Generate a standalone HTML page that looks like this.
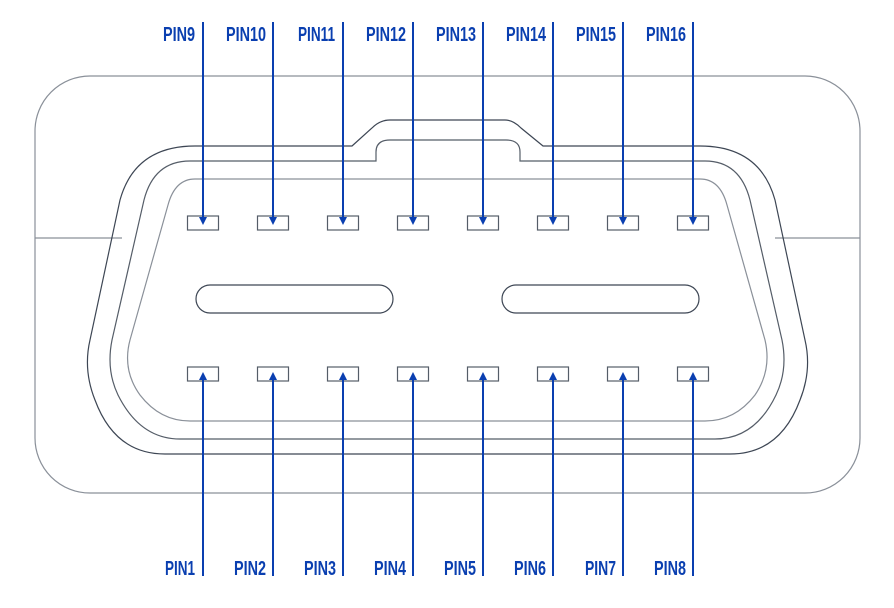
<!DOCTYPE html>
<html><head><style>body{margin:0;background:#fff}svg{display:block}
text{font-family:"Liberation Sans",sans-serif;font-weight:bold;font-size:20px;fill:#0a3fb0}</style></head>
<body>
<svg width="894" height="608" viewBox="0 0 894 608" xmlns="http://www.w3.org/2000/svg">
<defs><marker id="a" markerWidth="8" markerHeight="8" refX="4" refY="4" orient="auto" markerUnits="userSpaceOnUse"><path d="M0,0 L8,4 L0,8Z" fill="#0a3fb0"/></marker></defs>
<g fill="none" stroke-width="1.2">
<rect x="35" y="76" width="825" height="417" rx="55" stroke="#8a9099"/>
<line x1="35" y1="238" x2="122" y2="238" stroke="#8a9099"/>
<line x1="775" y1="238" x2="860" y2="238" stroke="#8a9099"/>
<path d="M352,146 L372,128 Q380,120 390,120 L505,120 Q513,120 521,128 L543,146 L700,146 Q760,146 775,200 L805,340 Q812,370 800,400 Q780,454 730,454 L165,454 Q115,454 95,400 Q83,370 90,340 L120,200 Q135,146 195,146 Z" stroke="#3d4654"/>
<path d="M376,161 L376,152 Q376,140 390,140 L506,140 Q520,140 520,152 L520,161 L705,161 Q740,161 750,200 L782,340 Q788,370 776,395 Q755,439 715,439 L180,439 Q140,439 118,395 Q106,370 112,340 L144,200 Q154,161 190,161 Z" stroke="#555d68"/>
<path d="M195,179 L700,179 Q720,179 727,205 L765,340 Q772,370 755,395 Q735,421 705,421 L190,421 Q160,421 140,395 Q122,370 130,340 L168,205 Q175,179 195,179 Z" stroke="#8a9099"/>
<rect x="196" y="285" width="197" height="28" rx="14" stroke="#3d4654"/>
<rect x="502" y="285" width="197" height="28" rx="14" stroke="#3d4654"/>
<g stroke="#555d68">
<rect x="187.5" y="216" width="31" height="14"/><rect x="257.5" y="216" width="31" height="14"/><rect x="327.5" y="216" width="31" height="14"/><rect x="397.5" y="216" width="31" height="14"/><rect x="467.5" y="216" width="31" height="14"/><rect x="537.5" y="216" width="31" height="14"/><rect x="607.5" y="216" width="31" height="14"/><rect x="677.5" y="216" width="31" height="14"/>
<rect x="187.5" y="367" width="31" height="14"/><rect x="257.5" y="367" width="31" height="14"/><rect x="327.5" y="367" width="31" height="14"/><rect x="397.5" y="367" width="31" height="14"/><rect x="467.5" y="367" width="31" height="14"/><rect x="537.5" y="367" width="31" height="14"/><rect x="607.5" y="367" width="31" height="14"/><rect x="677.5" y="367" width="31" height="14"/>
</g>
</g>
<g stroke="#0a3fb0" stroke-width="2" marker-end="url(#a)">
<line x1="203" y1="22" x2="203" y2="221"/><line x1="273" y1="22" x2="273" y2="221"/><line x1="343" y1="22" x2="343" y2="221"/><line x1="413" y1="22" x2="413" y2="221"/><line x1="483" y1="22" x2="483" y2="221"/><line x1="553" y1="22" x2="553" y2="221"/><line x1="623" y1="22" x2="623" y2="221"/><line x1="693" y1="22" x2="693" y2="221"/>
<line x1="203" y1="576" x2="203" y2="376"/><line x1="273" y1="576" x2="273" y2="376"/><line x1="343" y1="576" x2="343" y2="376"/><line x1="413" y1="576" x2="413" y2="376"/><line x1="483" y1="576" x2="483" y2="376"/><line x1="553" y1="576" x2="553" y2="376"/><line x1="623" y1="576" x2="623" y2="376"/><line x1="693" y1="576" x2="693" y2="376"/>
</g>
<g lengthAdjust="spacingAndGlyphs">
<text x="163" y="41" textLength="32" lengthAdjust="spacingAndGlyphs">PIN9</text>
<text x="226" y="41" textLength="40" lengthAdjust="spacingAndGlyphs">PIN10</text>
<text x="298" y="41" textLength="37" lengthAdjust="spacingAndGlyphs">PIN11</text>
<text x="366" y="41" textLength="40" lengthAdjust="spacingAndGlyphs">PIN12</text>
<text x="436" y="41" textLength="40" lengthAdjust="spacingAndGlyphs">PIN13</text>
<text x="506" y="41" textLength="40" lengthAdjust="spacingAndGlyphs">PIN14</text>
<text x="576" y="41" textLength="40" lengthAdjust="spacingAndGlyphs">PIN15</text>
<text x="646" y="41" textLength="40" lengthAdjust="spacingAndGlyphs">PIN16</text>
<text x="165" y="575" textLength="30" lengthAdjust="spacingAndGlyphs">PIN1</text>
<text x="234" y="575" textLength="32" lengthAdjust="spacingAndGlyphs">PIN2</text>
<text x="304" y="575" textLength="32" lengthAdjust="spacingAndGlyphs">PIN3</text>
<text x="374" y="575" textLength="32" lengthAdjust="spacingAndGlyphs">PIN4</text>
<text x="444" y="575" textLength="32" lengthAdjust="spacingAndGlyphs">PIN5</text>
<text x="514" y="575" textLength="32" lengthAdjust="spacingAndGlyphs">PIN6</text>
<text x="585" y="575" textLength="31" lengthAdjust="spacingAndGlyphs">PIN7</text>
<text x="654" y="575" textLength="32" lengthAdjust="spacingAndGlyphs">PIN8</text>
</g>
</svg>
</body></html>
